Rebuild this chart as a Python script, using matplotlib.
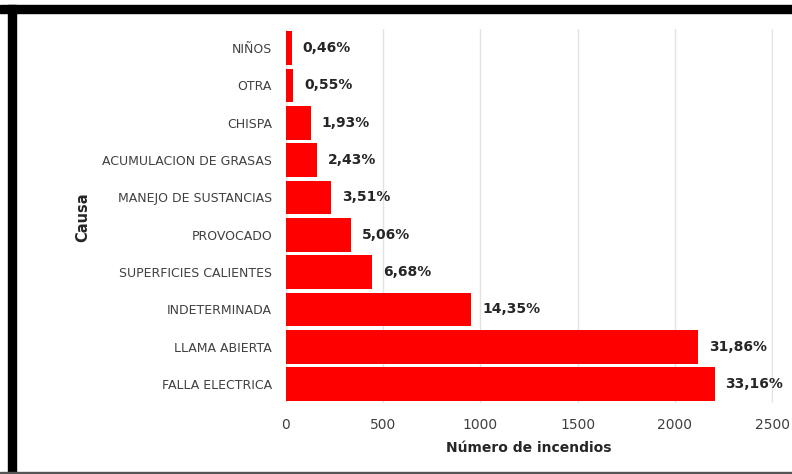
import matplotlib
matplotlib.use("Agg")
from matplotlib import pyplot as plt
from matplotlib.patches import Rectangle

# data (bottom to top)
causas = ["FALLA ELECTRICA", "LLAMA ABIERTA", "INDETERMINADA", "SUPERFICIES CALIENTES",
          "PROVOCADO", "MANEJO DE SUSTANCIAS", "ACUMULACION DE GRASAS", "CHISPA",
          "OTRA", "NIÑOS"]
incendios = [2205, 2119, 954, 444, 336, 233, 162, 128, 37, 31]
porcentajes = ["33,16%", "31,86%", "14,35%", "6,68%", "5,06%", "3,51%",
               "2,43%", "1,93%", "0,55%", "0,46%"]
x_ticks = [0, 500, 1000, 1500, 2000, 2500]

W, H = 792, 474
fig = plt.figure(figsize=(W / 100, H / 100), dpi=100)
fig.patch.set_facecolor("white")

# axes placed in pixel terms
left, right, top, bottom = 286, 773, 29.4, 402.7
ax = fig.add_axes([left / W, 1 - bottom / H, (right - left) / W, (bottom - top) / H])

pos = list(range(len(causas)))
ax.barh(pos, incendios, height=0.9, color="#ff0000", zorder=3)
for p, v, t in zip(pos, incendios, porcentajes):
    ax.text(v + 55, p, t, va="center", ha="left", fontsize=10,
            fontweight="bold", color="#262626")

ax.set_xlim(0, 2505)
ax.set_ylim(-0.5, len(causas) - 0.5)
ax.set_yticks(pos)
ax.set_yticklabels(causas, fontsize=9, color="#404040")
ax.set_xticks(x_ticks)
ax.set_xticklabels([str(t) for t in x_ticks], fontsize=10, color="#404040")
ax.tick_params(length=0)
ax.tick_params(axis="y", pad=10)
ax.tick_params(axis="x", pad=11)
ax.grid(axis="x", color="#e3e3e3", linewidth=1, zorder=0)
for s in ax.spines.values():
    s.set_visible(False)

fig.text(83 / W, 1 - 217 / H, "Causa", rotation=90, ha="center", va="center",
         fontsize=10.5, fontweight="bold", color="#262626")
fig.text(529 / W, 1 - 448 / H, "Número de incendios", ha="center", va="center",
         fontsize=10, fontweight="bold", color="#262626")

# black frame around the picture
fig.patches.append(Rectangle((0, 1 - 13 / H), 1, 8 / H, transform=fig.transFigure,
                             color="black", zorder=10))
fig.patches.append(Rectangle((8 / W, 0), 8 / W, 1 - 5 / H, transform=fig.transFigure,
                             color="black", zorder=10))
fig.patches.append(Rectangle((0, 0), 1, 2 / H, transform=fig.transFigure,
                             color="#555555", zorder=10))

fig.savefig("out.png", dpi=100)
